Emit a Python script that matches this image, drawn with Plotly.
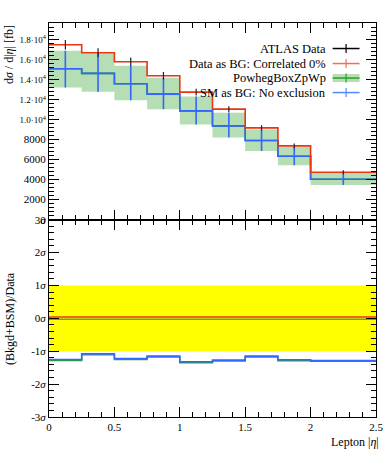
import plotly.graph_objects as go

# ---------------- data ----------------
bin_edges = [0.0, 0.25, 0.5, 0.75, 1.0, 1.25, 1.5, 1.75, 2.0, 2.5]
data_vals = [17460, 16660, 15760, 14360, 12730, 11030, 9160, 7360, 4730]
data_errs = [480, 440, 420, 380, 340, 300, 260, 230, 200]
sm_vals = [15060, 14600, 13560, 12530, 10860, 9360, 7900, 6330, 4030]
sm_up = [16860, 16600, 15360, 14160, 12300, 10660, 9000, 7260, 4700]
sm_dn = [13200, 12760, 11930, 11030, 9500, 8200, 6860, 5430, 3460]
ratio_data = [0.04] * 9
ratio_sm = [-1.25, -1.08, -1.22, -1.15, -1.32, -1.27, -1.15, -1.26, -1.28]
ratio_powheg = [-1.28, -1.11, -1.25, -1.18, -1.35, -1.30, -1.18, -1.29, -1.31]
ratio_powheg_zero = [-0.03] * 9

y_tickvals = [0, 2000, 4000, 6000, 8000, 10000, 12000, 14000, 16000, 18000]
y_ticktext = ["0", "2000", "4000", "6000", "8000", "1.0·10<sup>4</sup>", "1.2·10<sup>4</sup>",
              "1.4·10<sup>4</sup>", "1.6·10<sup>4</sup>", "1.8·10<sup>4</sup>"]
r_tickvals = [-3, -2, -1, 0, 1, 2, 3]
r_ticktext = ["-3<i>σ</i>", "-2<i>σ</i>", "-1<i>σ</i>", "0<i>σ</i>", "1<i>σ</i>", "2<i>σ</i>", "3<i>σ</i>"]
x_tickvals = [0, 0.5, 1, 1.5, 2, 2.5]
x_ticktext = ["0", "0.5", "1", "1.5", "2", "2.5"]

legend_labels = ["ATLAS Data", "Data as BG: Correlated 0%", "PowhegBoxZpWp", "SM as BG: No exclusion"]

RED = "#EE3311"
BLUE = "#3366FF"
GREEN = "#2CA02C"
BLACK = "#000000"
FONT = "Liberation Serif"

centers = [(bin_edges[i] + bin_edges[i + 1]) / 2 for i in range(len(bin_edges) - 1)]


def step(vals):
    return list(vals) + [vals[-1]]


def small(t):
    return t if "·" not in t else '<span style="font-size:9px">' + t + "</span>"


fig = go.Figure()

# ---- upper panel ----
fig.add_trace(go.Scatter(x=bin_edges, y=step(sm_dn), mode="lines", line=dict(width=0, shape="hv"),
                         xaxis="x2", yaxis="y2", showlegend=False, hoverinfo="skip"))
fig.add_trace(go.Scatter(x=bin_edges, y=step(sm_up), mode="lines", line=dict(width=0, shape="hv"),
                         fill="tonexty", fillcolor="rgba(44,160,44,0.35)",
                         xaxis="x2", yaxis="y2", showlegend=False, hoverinfo="skip"))
fig.add_trace(go.Scatter(x=bin_edges, y=step(sm_vals), mode="lines", line=dict(color=GREEN, width=1.6, shape="hv"),
                         xaxis="x2", yaxis="y2", showlegend=False))
fig.add_trace(go.Scatter(x=bin_edges, y=step(sm_vals), mode="lines", line=dict(color=BLUE, width=1.6, shape="hv"),
                         xaxis="x2", yaxis="y2", showlegend=False))
fig.add_trace(go.Scatter(x=centers, y=sm_vals, mode="markers", marker=dict(size=0.1, color=BLUE),
                         error_y=dict(type="data", symmetric=False,
                                      array=[u - v for u, v in zip(sm_up, sm_vals)],
                                      arrayminus=[v - d for v, d in zip(sm_vals, sm_dn)],
                                      color=BLUE, thickness=1.6, width=0),
                         xaxis="x2", yaxis="y2", showlegend=False))
fig.add_trace(go.Scatter(x=bin_edges, y=step(data_vals), mode="lines", line=dict(color=RED, width=1.6, shape="hv"),
                         xaxis="x2", yaxis="y2", showlegend=False))
fig.add_trace(go.Scatter(x=centers, y=data_vals, mode="markers", marker=dict(size=0.1, color=BLACK),
                         error_y=dict(type="data", array=data_errs, color="#222222", thickness=1.2, width=0),
                         xaxis="x2", yaxis="y2", showlegend=False))

# ---- lower panel ----
fig.add_shape(type="rect", xref="x", yref="y", x0=bin_edges[0], x1=bin_edges[-1], y0=-1, y1=1,
              fillcolor="#FFFF00", line=dict(width=0), layer="below")
fig.add_trace(go.Scatter(x=bin_edges, y=step(ratio_powheg_zero), mode="lines",
                         line=dict(color="#7A9A3A", width=1.4, shape="hv"), showlegend=False))
fig.add_trace(go.Scatter(x=bin_edges, y=step(ratio_data), mode="lines",
                         line=dict(color=RED, width=1.4, shape="hv"), showlegend=False))
fig.add_trace(go.Scatter(x=bin_edges, y=step(ratio_powheg), mode="lines",
                         line=dict(color=GREEN, width=1.4, shape="hv"), showlegend=False))
fig.add_trace(go.Scatter(x=bin_edges, y=step(ratio_sm), mode="lines",
                         line=dict(color=BLUE, width=1.6, shape="hv"), showlegend=False))

W, H = 389, 450
L, R, T, B = 48.5, 12.5, 23, 33.3
plot_w = W - L - R
plot_h = H - T - B
split = (416.7 - 219.5) / plot_h

tick_font = dict(family=FONT, size=11, color="black")
common = dict(showline=True, linecolor="black", linewidth=1, mirror="allticks", ticks="inside",
              ticklen=10, tickcolor="black", showgrid=False, zeroline=False, tickfont=tick_font,
              automargin=False)

fig.update_layout(
    template="none",
    width=W, height=H,
    margin=dict(l=L, r=R, t=T, b=B, autoexpand=False),
    plot_bgcolor="white", paper_bgcolor="white",
    showlegend=False,
    font=dict(family=FONT, size=12, color="black"),
    xaxis=dict(domain=[0, 1], range=[0, 2.5], tickvals=x_tickvals, ticktext=x_ticktext,
               minor=dict(dtick=0.1, ticklen=5, ticks="inside", tickcolor="black"),
               anchor="y", **common),
    xaxis2=dict(domain=[0, 1], range=[0, 2.5], tickvals=x_tickvals, showticklabels=False,
                minor=dict(dtick=0.1, ticklen=5, ticks="inside", tickcolor="black"),
                anchor="y2", matches="x", **common),
    yaxis=dict(domain=[0, split], range=[-3, 3], tickvals=r_tickvals, ticktext=r_ticktext,
               minor=dict(dtick=0.2, ticklen=5, ticks="inside", tickcolor="black"),
               anchor="x", **common),
    yaxis2=dict(domain=[split, 1], range=[0, 19630], tickvals=y_tickvals,
                ticktext=[small(t) for t in y_ticktext],
                minor=dict(dtick=400, ticklen=5, ticks="inside", tickcolor="black"),
                anchor="x2", **common),
)

# convert window pixel positions to paper coordinates (for titles / legend)
px_to_x = lambda px: (px - L) / plot_w
px_to_y = lambda py: 1 - (py - T) / plot_h

# axis titles
fig.add_annotation(xref="paper", yref="paper", x=px_to_x(382), y=px_to_y(442), xanchor="right", yanchor="middle",
                   text="Lepton |<i>η</i>|", showarrow=False, font=dict(family=FONT, size=12))
fig.add_annotation(xref="paper", yref="paper", x=px_to_x(8), y=1.0, xanchor="center", yanchor="top",
                   textangle=-90, text="d<i>σ</i> / d|<i>η</i>| [fb]", showarrow=False,
                   font=dict(family=FONT, size=12))
fig.add_annotation(xref="paper", yref="paper", x=px_to_x(10), y=split / 2, xanchor="center", yanchor="middle",
                   textangle=-90, text="(Bkgd+BSM)/Data", showarrow=False,
                   font=dict(family=FONT, size=12))

# manual legend (text right-aligned, symbol on the right)
leg_y = [48.5, 63.5, 78, 92.5]
leg_colors = [BLACK, RED, GREEN, BLUE]
for lab, yy, col in zip(legend_labels, leg_y, leg_colors):
    fig.add_annotation(xref="paper", yref="paper", x=px_to_x(328), y=px_to_y(yy), xanchor="right",
                       yanchor="middle", text=lab, showarrow=False, font=dict(family=FONT, size=12.5))
    if col == GREEN:
        fig.add_shape(type="rect", xref="paper", yref="paper", x0=px_to_x(333), x1=px_to_x(360),
                      y0=px_to_y(yy + 4), y1=px_to_y(yy - 4), fillcolor="rgba(44,160,44,0.35)",
                      line=dict(width=0))
    lc = "#F07050" if col == RED else ("#5588FF" if col == BLUE else col)
    fig.add_shape(type="line", xref="paper", yref="paper", x0=px_to_x(333), x1=px_to_x(360),
                  y0=px_to_y(yy), y1=px_to_y(yy), line=dict(color=lc, width=1.5))
    fig.add_shape(type="line", xref="paper", yref="paper", x0=px_to_x(346.5), x1=px_to_x(346.5),
                  y0=px_to_y(yy - 4.5), y1=px_to_y(yy + 4.5), line=dict(color=lc, width=1.2))

# remove the browser's default 8px body margin so the figure fills the window
fig.write_html("out.html", config={"displayModeBar": False},
               post_script="document.body.style.margin='0';")
